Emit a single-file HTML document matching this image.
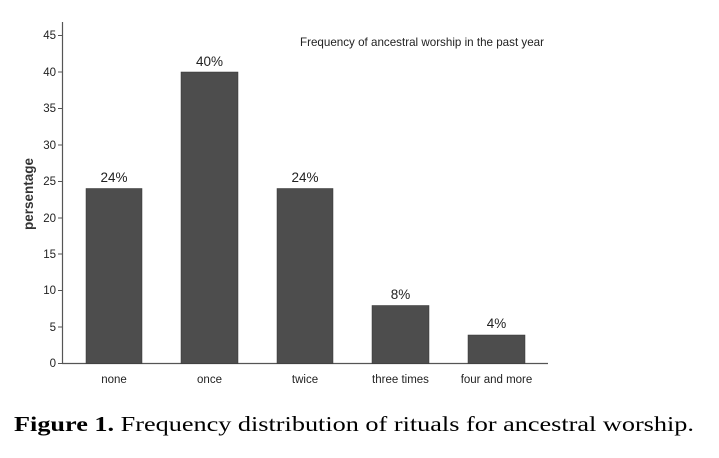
<!DOCTYPE html>
<html><head><style>
body{margin:0;background:#fff;}
svg{display:block}
</style></head><body>
<svg width="719" height="458" xmlns="http://www.w3.org/2000/svg">
<g font-family="Liberation Sans, sans-serif" fill="#222">
<line x1="62.5" y1="22" x2="62.5" y2="364" stroke="#555" stroke-width="1.2"/>
<line x1="62" y1="363.5" x2="548" y2="363.5" stroke="#555" stroke-width="1.2"/>
<g stroke="#555">
<line x1="58" y1="363.5" x2="62" y2="363.5"/>
<line x1="58" y1="327" x2="62" y2="327"/>
<line x1="58" y1="290.5" x2="62" y2="290.5"/>
<line x1="58" y1="254" x2="62" y2="254"/>
<line x1="58" y1="218" x2="62" y2="218"/>
<line x1="58" y1="181.5" x2="62" y2="181.5"/>
<line x1="58" y1="145" x2="62" y2="145"/>
<line x1="58" y1="108.5" x2="62" y2="108.5"/>
<line x1="58" y1="72" x2="62" y2="72"/>
<line x1="58" y1="35.5" x2="62" y2="35.5"/>
</g>
<g font-size="11.5" text-anchor="end">
<text x="56" y="367">0</text>
<text x="56" y="331">5</text>
<text x="56" y="294">10</text>
<text x="56" y="258">15</text>
<text x="56" y="222">20</text>
<text x="56" y="185">25</text>
<text x="56" y="149">30</text>
<text x="56" y="112">35</text>
<text x="56" y="76">40</text>
<text x="56" y="39">45</text>
</g>
<text transform="translate(33,194) rotate(-90)" font-size="13.5" font-weight="bold" fill="#333" text-anchor="middle">persentage</text>
<g fill="#4d4d4d" stroke="#333" stroke-width="0.5">
<rect x="86" y="188.5" width="56" height="175"/>
<rect x="181" y="72" width="57" height="291.5"/>
<rect x="277" y="188.5" width="56" height="175"/>
<rect x="372" y="305.5" width="57" height="58"/>
<rect x="468" y="335" width="57" height="28.5"/>
</g>
<g font-size="13.5" text-anchor="middle">
<text x="114" y="182">24%</text>
<text x="209.5" y="66">40%</text>
<text x="305" y="182">24%</text>
<text x="400.5" y="299">8%</text>
<text x="496.5" y="328">4%</text>
</g>
<g font-size="11.5" text-anchor="middle">
<text x="114" y="383">none</text>
<text x="209.5" y="383">once</text>
<text x="305" y="383">twice</text>
<text x="400.5" y="383">three times</text>
<text x="496.5" y="383">four and more</text>
</g>
<text x="300" y="46" font-size="12" textLength="244" lengthAdjust="spacingAndGlyphs">Frequency of ancestral worship in the past year</text>
</g>
<text x="14" y="431" font-family="Liberation Serif, serif" font-size="21" fill="#000" textLength="680" lengthAdjust="spacingAndGlyphs"><tspan font-weight="bold">Figure 1.</tspan> Frequency distribution of rituals for ancestral worship.</text>
</svg>
</body></html>
